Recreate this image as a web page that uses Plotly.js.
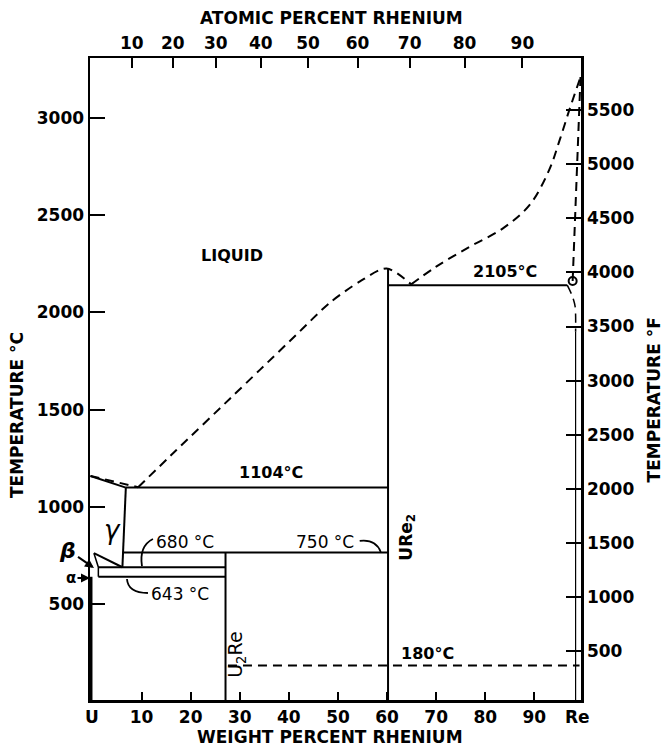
<!DOCTYPE html>
<html>
<head>
<meta charset="utf-8">
<script src="https://cdn.plot.ly/plotly-3.0.1.min.js"></script>
<style>html,body{margin:0;padding:0;background:#fff}#chart{width:665px;height:746px}</style>
</head>
<body>
<div id="chart"></div>
<script>
// ---------- data (weight percent Re, temperature °C) ----------
const weightTicks = [10, 20, 30, 40, 50, 60, 70, 80, 90];
const endLabels = ["U", "Re"];
const endLabelWt = [0, 98.8];
const atomicTicks = [10, 20, 30, 40, 50, 60, 70, 80, 90];
const celsiusTicks = [500, 1000, 1500, 2000, 2500, 3000];
const fahrenheitTicks = [500, 1000, 1500, 2000, 2500, 3000, 3500, 4000, 4500, 5000, 5500];

// liquidus, in pieces
const liquidusUWt = [-0.4, 9.3];
const liquidusUC  = [1159, 1101];
const liquidusMidWt = [9.3, 17.1, 28.0, 34.1, 42.2, 48.3, 54.4, 59.9, 64.9];
const liquidusMidC  = [1101, 1292, 1556, 1704, 1901, 2048, 2157, 2225, 2143];
const liquidusReWt = [64.9, 70.0, 76.8, 83.6, 89.0, 93.0, 95.1, 97.2, 99.4];
const liquidusReC  = [2143, 2234, 2336, 2431, 2550, 2730, 2880, 3045, 3208];

const gammaSolidusWt = [-0.4, 6.8];
const gammaSolidusC  = [1159, 1099];
const eutecticWt = [6.8, 60.2];
const eutecticC  = [1100, 1100];
const gammaBoundaryWt = [6.8, 6.1];
const gammaBoundaryC  = [1100, 690];
const gammaLowerWt = [0.3, 6.1];
const gammaLowerC  = [762, 690];
const betaEdgeWt = [0.3, 1.2, 1.2];
const betaEdgeC  = [762, 690, 641];
const line750Wt = [6.1, 60.2];
const line750C  = [766, 766];
const line680Wt = [1.2, 27.1];
const line680C  = [690, 690];
const line643Wt = [1.2, 27.1];
const line643C  = [641, 641];
const alphaWt = [-0.3, -0.3];
const alphaC  = [641, 0];
const u2reWt = [27.1, 27.1];
const u2reC  = [766, 0];
const ure2Wt = [60.2, 60.2];
const ure2C  = [2222, 0];
const peritecticWt = [60.2, 96.7];
const peritecticC  = [2139, 2139];
const line180Wt = [27.6, 99.2];
const line180C  = [185, 185];
const reSolidusWt = [99.4, 97.8];
const reSolidusC  = [3208, 2160];
const reSolvusWt = [96.7, 97.7, 98.3, 98.4];
const reSolvusC  = [2139, 2085, 2030, 1900];
const reSolvusLowWt = [98.4, 98.4];
const reSolvusLowC  = [1900, 0];
const curlWt = [97.8];
const curlC  = [2160];

// ---------- helpers ----------
const MU = 238.03, MRE = 186.21;
const atomicToWeight = a => 100 * a * MRE / (a * MRE + (100 - a) * MU);
const cToF = c => c * 9 / 5 + 32;

const xRange = [-0.5, 99.5];
const yRange = [8, 3306];
const L = 90, R = 581.5, T = 58, B = 700;
const px = x => (x - L) / (R - L);
const py = y => (B - y) / (B - T);

const FONT = "DejaVu Sans";
const DASH = "9px,6px";

function line(x, y, opts = {}) {
  return {
    type: "scatter", mode: "lines", x, y,
    xaxis: opts.xaxis || "x", yaxis: opts.yaxis || "y",
    line: {color: "#000", width: opts.width || 2, dash: opts.dash || "solid",
           shape: opts.spline ? "spline" : "linear", smoothing: opts.spline || 0},
    hoverinfo: "skip", showlegend: false
  };
}

const traces = [
  line(liquidusUWt, liquidusUC, {dash: DASH}),
  line(liquidusMidWt, liquidusMidC, {dash: DASH, spline: 0.8}),
  line(liquidusReWt, liquidusReC, {dash: DASH, spline: 1}),
  line(gammaSolidusWt, gammaSolidusC),
  line(eutecticWt, eutecticC),
  line(gammaBoundaryWt, gammaBoundaryC),
  line(gammaLowerWt, gammaLowerC),
  line(betaEdgeWt, betaEdgeC, {width: 1.5}),
  line(line750Wt, line750C),
  line(line680Wt, line680C),
  line(line643Wt, line643C),
  line(alphaWt, alphaC, {width: 3}),
  line(u2reWt, u2reC),
  line(ure2Wt, ure2C),
  line(peritecticWt, peritecticC.map(cToF), {xaxis: "x2", yaxis: "y2"}),
  line(line180Wt, line180C, {dash: DASH, xaxis: "x2"}),
  line(reSolidusWt, reSolidusC, {dash: DASH}),
  line(reSolvusWt, reSolvusC, {dash: DASH, width: 1.5, spline: 0.8}),
  line(reSolvusLowWt, reSolvusLowC, {width: 1.2}),
  {type: "scatter", mode: "markers", x: curlWt, y: curlC,
   marker: {symbol: "circle-open", size: 8, color: "#000", line: {width: 2, color: "#000"}},
   hoverinfo: "skip", showlegend: false}
];

const tickFont = {family: FONT, size: 17, color: "#000", weight: "bold"};
const axisCommon = {showgrid: false, zeroline: false, showline: true, linecolor: "#000",
  linewidth: 2, ticks: "inside", tickcolor: "#000", tickwidth: 2, tickfont: tickFont};

function ann(text, x, y, o = {}) {
  return Object.assign({text, x: px(x), y: py(y), xref: "paper", yref: "paper",
    showarrow: false, xanchor: "center", yanchor: "middle",
    font: {family: FONT, size: o.size || 16, color: "#000", weight: o.weight || "bold", style: o.style || "normal"}},
    o.extra || {});
}
// labelled pointer: text centred at (lx,ly), arrow tip at (tx,ty), all in pixels
function pointer(text, lx, ly, tx, ty, o = {}) {
  const a = ann(text, tx, ty, o);
  return Object.assign(a, {showarrow: true, ax: lx - tx, ay: ly - ty, axref: "pixel", ayref: "pixel",
    arrowhead: 2, arrowsize: 0.9, arrowwidth: 2, arrowcolor: "#000", standoff: 0, startstandoff: 0});
}

const annotations = [
  ann("ATOMIC PERCENT RHENIUM", 332, 18, {size: 17}),
  ann("WEIGHT PERCENT RHENIUM", 330, 737, {size: 17}),
  ann("TEMPERATURE °C", 17, 415, {size: 17, extra: {textangle: -90}}),
  ann("TEMPERATURE °F", 655, 400, {size: 17, extra: {textangle: -90}}),
  ann("LIQUID", 232, 255, {size: 16}),
  ann("1104°C", 271, 472, {size: 16}),
  ann("2105°C", 505, 271, {size: 16}),
  ann("180°C", 428, 653, {size: 16}),
  ann("680 °C", 185, 542, {size: 17, weight: "normal"}),
  ann("643 °C", 180, 594, {size: 17, weight: "normal"}),
  ann("750 °C", 325, 542, {size: 17, weight: "normal"}),
  ann("URe<sub>2</sub>", 407, 537, {size: 17, extra: {textangle: -90}}),
  ann("U<sub>2</sub>Re", 236, 655, {size: 19, weight: "normal", extra: {textangle: -90}}),
  ann("γ", 113, 530, {size: 26, weight: "normal", style: "italic"}),
  pointer("β", 68, 550, 94, 568, {size: 22, weight: "bold", style: "italic"}),
  pointer("α", 71, 578, 90, 578, {size: 15, weight: "bold"})
];
endLabels.forEach((t, i) => annotations.push({
  text: t, x: endLabelWt[i], xref: "x", y: py(717), yref: "paper", showarrow: false,
  xanchor: "center", yanchor: "middle", font: tickFont
}));

function pathPx(d) {
  return d.replace(/(-?\d+\.?\d*),(-?\d+\.?\d*)/g, (m, a, b) => px(+a).toFixed(4) + "," + py(+b).toFixed(4));
}
const leader = d => ({type: "path", xref: "paper", yref: "paper", path: pathPx(d), line: {color: "#000", width: 1.8}});
const shapes = [
  leader("M 153,539 Q 139,546 142,566"),
  leader("M 127,579 Q 128,593 148,593"),
  leader("M 360,541 Q 376,539 381,552")
];

const layout = {
  width: 665, height: 746,
  margin: {l: L, r: 665 - R, t: T, b: 746 - B, pad: 0},
  paper_bgcolor: "#fff", plot_bgcolor: "#fff",
  font: {family: FONT, color: "#000"},
  showlegend: false,
  xaxis: Object.assign({}, axisCommon, {range: xRange, tickvals: weightTicks, ticktext: weightTicks.map(String), ticklen: 8, linewidth: 2.5}),
  xaxis2: Object.assign({}, axisCommon, {range: xRange, overlaying: "x", side: "top",
    tickvals: atomicTicks.map(atomicToWeight), ticktext: atomicTicks.map(String), ticklen: 10}),
  yaxis: Object.assign({}, axisCommon, {range: yRange, tickvals: celsiusTicks, ticktext: celsiusTicks.map(String), ticklen: 15, linewidth: 2.5}),
  yaxis2: Object.assign({}, axisCommon, {range: yRange.map(cToF), overlaying: "y", side: "right",
    tickvals: fahrenheitTicks, ticktext: fahrenheitTicks.map(String), ticklen: 15, linewidth: 2.5}),
  annotations, shapes
};

Plotly.newPlot("chart", traces, layout, {staticPlot: true, displayModeBar: false});
</script>
</body>
</html>
